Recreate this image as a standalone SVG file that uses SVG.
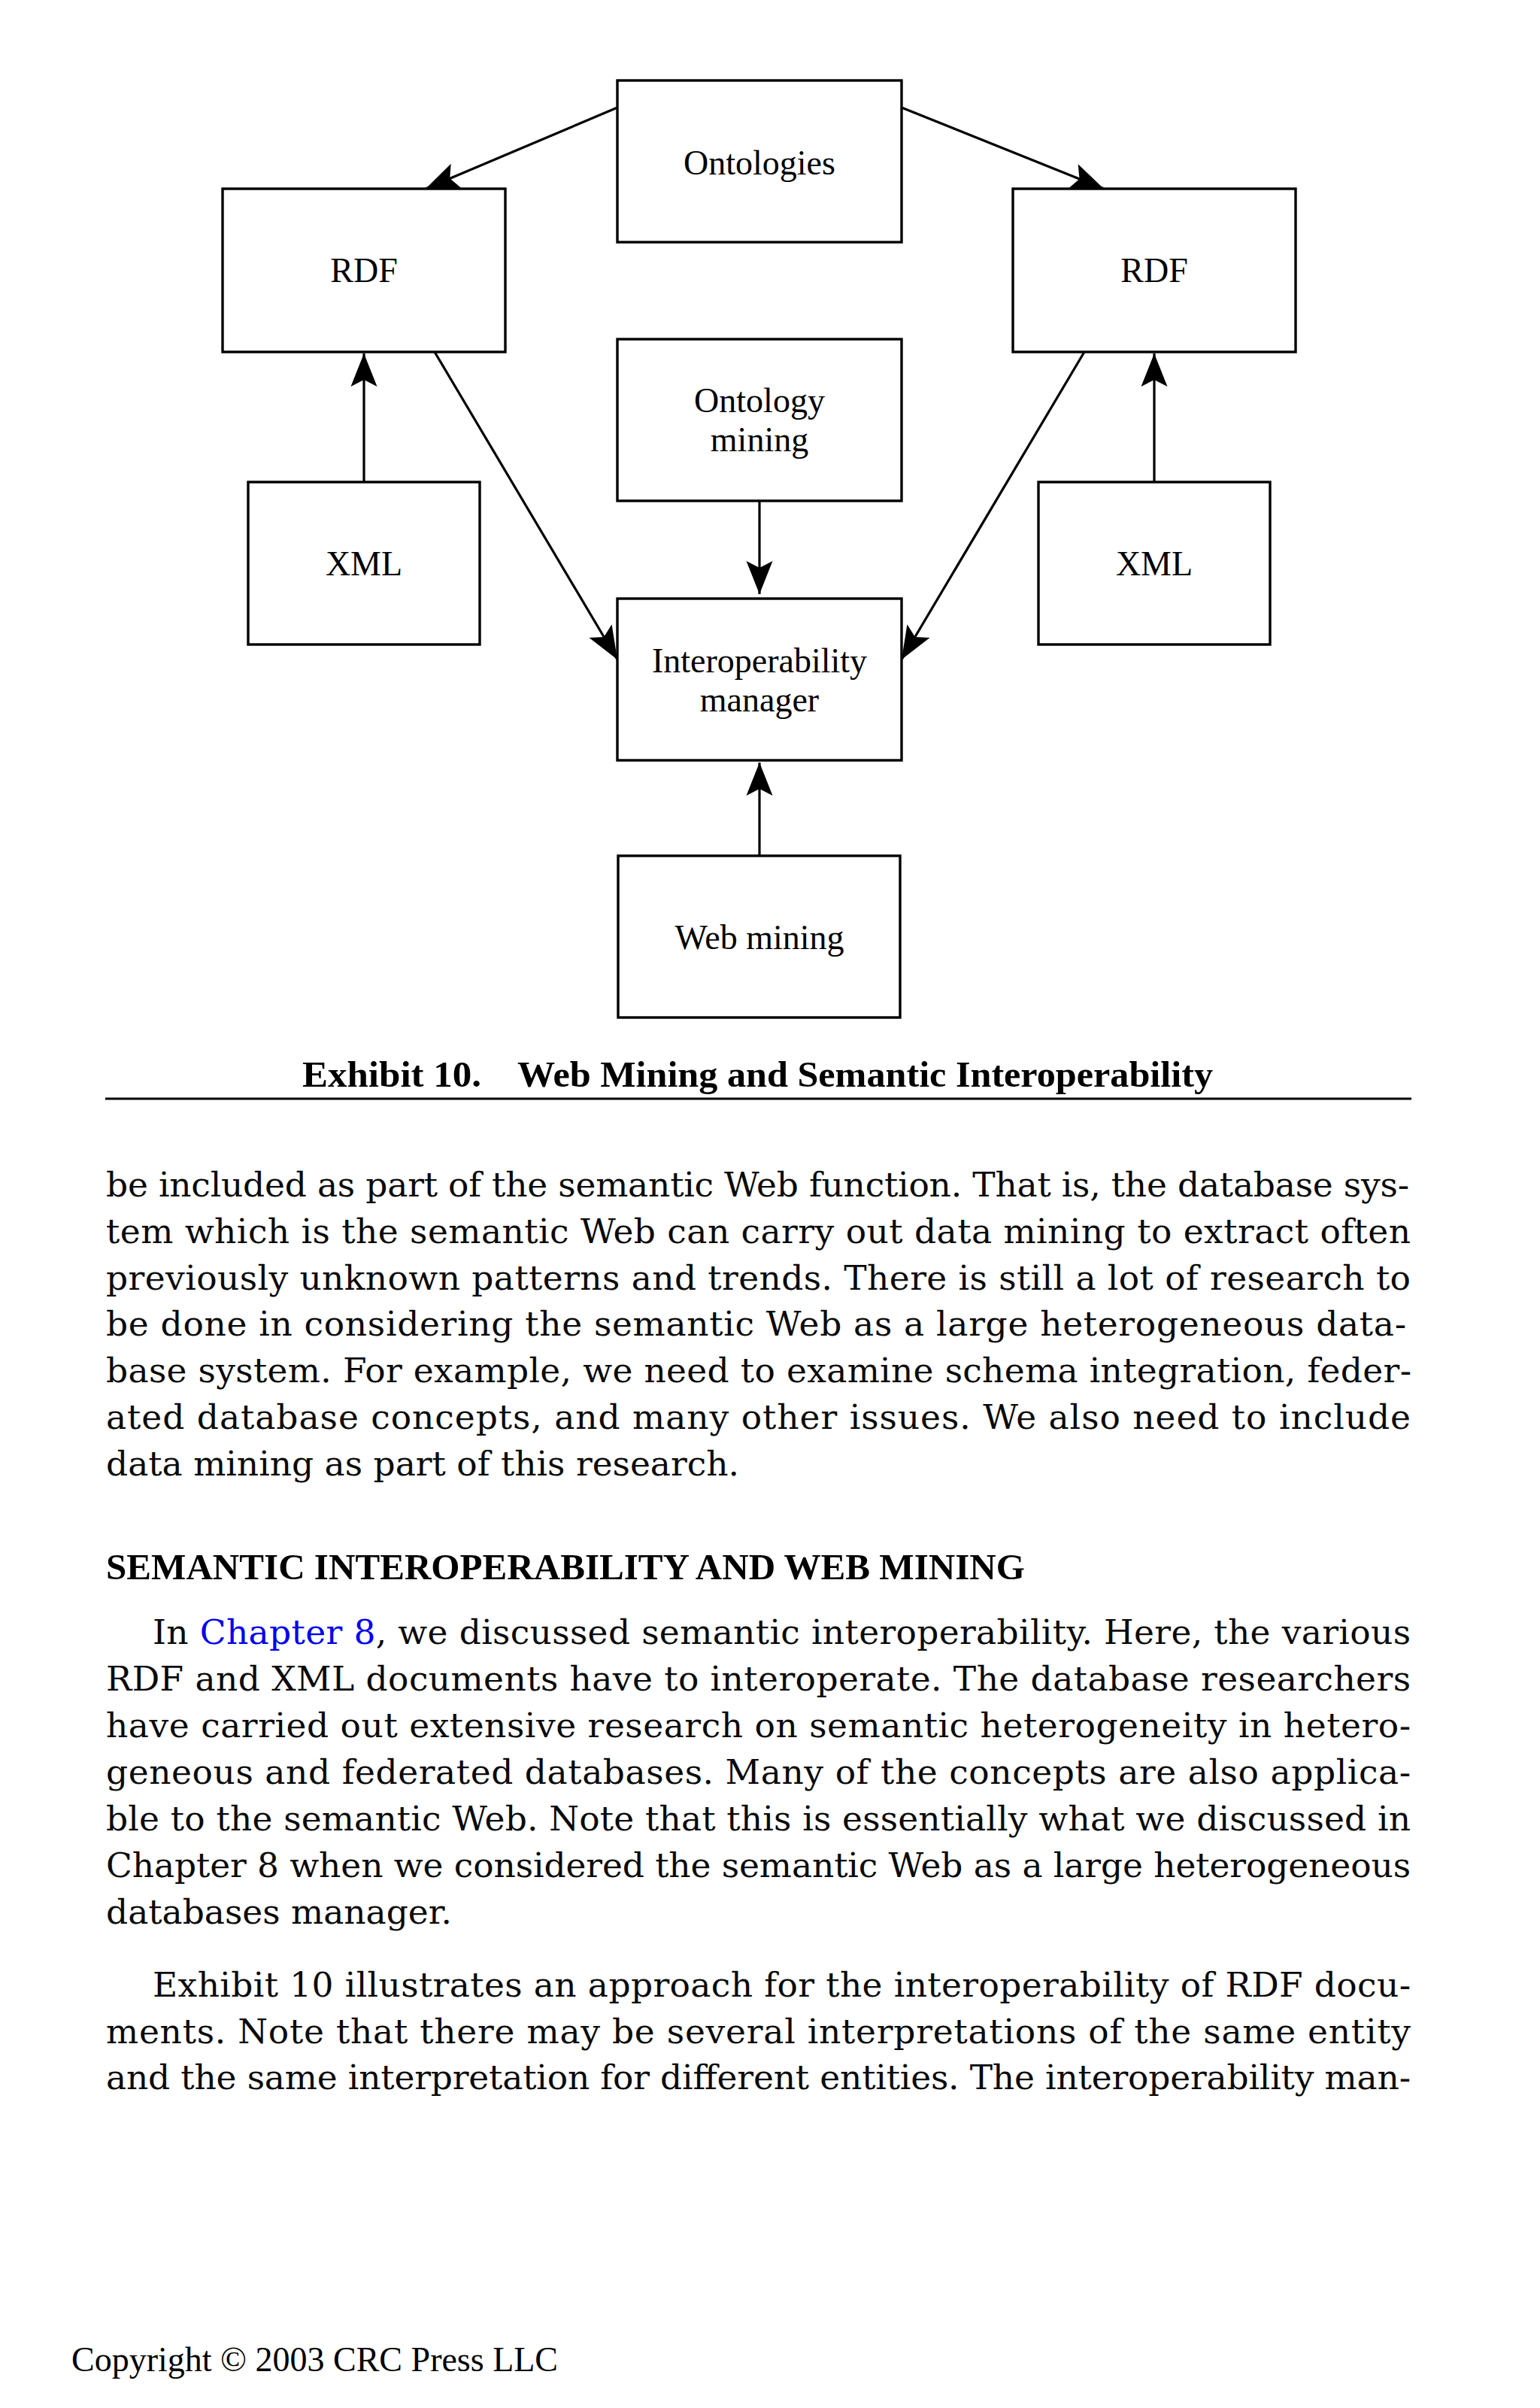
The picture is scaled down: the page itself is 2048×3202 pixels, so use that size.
<svg xmlns="http://www.w3.org/2000/svg" width="2048" height="3202" viewBox="0 0 2048 3202">
<style>
.box{fill:#fff;stroke:#000;stroke-width:3.4}
.lbl{font-family:"Liberation Serif","Times New Roman",serif;font-size:46px;fill:#000;text-anchor:middle}
.con{stroke:#000;stroke-width:3.2;fill:none}
.body{font-family:"DejaVu Serif",serif;font-size:45.5px;fill:#0a0a0a}
.bold{font-family:"Liberation Serif","Times New Roman",serif;font-weight:bold;font-size:48px;fill:#000}
.link{fill:#0000ee}
</style>
<defs>
<marker id="ah" markerUnits="userSpaceOnUse" markerWidth="50" markerHeight="40" viewBox="-46 -20 50 40" refX="0" refY="0" orient="auto">
<path d="M0,0 L-44,-17.5 L-35,0 L-44,17.5 Z" fill="#000"/>
</marker>
</defs>
<rect width="2048" height="3202" fill="#fff"/>
<g id="connectors">
<line class="con" x1="821" y1="143" x2="566" y2="251" marker-end="url(#ah)"/>
<line class="con" x1="1199" y1="143" x2="1468" y2="251" marker-end="url(#ah)"/>
<line class="con" x1="484" y1="641" x2="484" y2="470" marker-end="url(#ah)"/>
<line class="con" x1="1535" y1="641" x2="1535" y2="470" marker-end="url(#ah)"/>
<line class="con" x1="578" y1="468" x2="821" y2="877" marker-end="url(#ah)"/>
<line class="con" x1="1442" y1="468" x2="1199" y2="877" marker-end="url(#ah)"/>
<line class="con" x1="1010" y1="666" x2="1010" y2="790" marker-end="url(#ah)"/>
<line class="con" x1="1010" y1="1138" x2="1010" y2="1014" marker-end="url(#ah)"/>
</g>
<g id="ontologies"><rect class="box" x="821" y="107" width="378" height="215"/><text class="lbl" x="1010" y="232">Ontologies</text></g>
<g id="rdf-left"><rect class="box" x="296" y="251" width="376" height="217"/><text class="lbl" x="484" y="375">RDF</text></g>
<g id="rdf-right"><rect class="box" x="1347" y="251" width="376" height="217"/><text class="lbl" x="1535" y="375">RDF</text></g>
<g id="ontology-mining"><rect class="box" x="821" y="451" width="378" height="215"/><text class="lbl" x="1010" y="548">Ontology</text><text class="lbl" x="1010" y="600">mining</text></g>
<g id="xml-left"><rect class="box" x="330" y="641" width="308" height="216"/><text class="lbl" x="484" y="765">XML</text></g>
<g id="xml-right"><rect class="box" x="1381" y="641" width="308" height="216"/><text class="lbl" x="1535" y="765">XML</text></g>
<g id="interoperability-manager"><rect class="box" x="821" y="796" width="378" height="215"/><text class="lbl" x="1010" y="894">Interoperability</text><text class="lbl" x="1010" y="946">manager</text></g>
<g id="web-mining"><rect class="box" x="822" y="1138" width="375" height="215"/><text class="lbl" x="1010" y="1262">Web mining</text></g>
<text class="bold" x="402" y="1445" textLength="238" lengthAdjust="spacingAndGlyphs">Exhibit 10.</text>
<text class="bold" x="688" y="1445" textLength="925" lengthAdjust="spacingAndGlyphs">Web Mining and Semantic Interoperability</text>
<line x1="140" y1="1461" x2="1877" y2="1461" stroke="#000" stroke-width="3"/>
<g class="body">
<text x="141" y="1591" textLength="1733" lengthAdjust="spacing">be included as part of the semantic Web function. That is, the database sys-</text>
<text x="141" y="1653" textLength="1735" lengthAdjust="spacing">tem which is the semantic Web can carry out data mining to extract often</text>
<text x="141" y="1715" textLength="1735" lengthAdjust="spacing">previously unknown patterns and trends. There is still a lot of research to</text>
<text x="141" y="1776" textLength="1729" lengthAdjust="spacing">be done in considering the semantic Web as a large heterogeneous data-</text>
<text x="141" y="1838" textLength="1736" lengthAdjust="spacing">base system. For example, we need to examine schema integration, feder-</text>
<text x="141" y="1900" textLength="1735" lengthAdjust="spacing">ated database concepts, and many other issues. We also need to include</text>
<text x="141" y="1962">data mining as part of this research.</text>
</g>
<text class="bold" x="141" y="2100" textLength="1222" lengthAdjust="spacingAndGlyphs">SEMANTIC INTEROPERABILITY AND WEB MINING</text>
<g class="body">
<text x="203" y="2186" textLength="1673" lengthAdjust="spacing">In <tspan class="link">Chapter 8</tspan>, we discussed semantic interoperability. Here, the various</text>
<text x="141" y="2248" textLength="1735" lengthAdjust="spacing">RDF and XML documents have to interoperate. The database researchers</text>
<text x="141" y="2310" textLength="1735" lengthAdjust="spacing">have carried out extensive research on semantic heterogeneity in hetero-</text>
<text x="141" y="2372" textLength="1735" lengthAdjust="spacing">geneous and federated databases. Many of the concepts are also applica-</text>
<text x="141" y="2434" textLength="1735" lengthAdjust="spacing">ble to the semantic Web. Note that this is essentially what we discussed in</text>
<text x="141" y="2496" textLength="1735" lengthAdjust="spacing">Chapter 8 when we considered the semantic Web as a large heterogeneous</text>
<text x="141" y="2558">databases manager.</text>
<text x="203" y="2655" textLength="1673" lengthAdjust="spacing">Exhibit 10 illustrates an approach for the interoperability of RDF docu-</text>
<text x="141" y="2717" textLength="1735" lengthAdjust="spacing">ments. Note that there may be several interpretations of the same entity</text>
<text x="141" y="2778" textLength="1735" lengthAdjust="spacing">and the same interpretation for different entities. The interoperability man-</text>
</g>
<text x="95" y="3153" font-family="Liberation Serif, Times New Roman, serif" font-size="46" fill="#000">Copyright © 2003 CRC Press LLC</text>
</svg>
